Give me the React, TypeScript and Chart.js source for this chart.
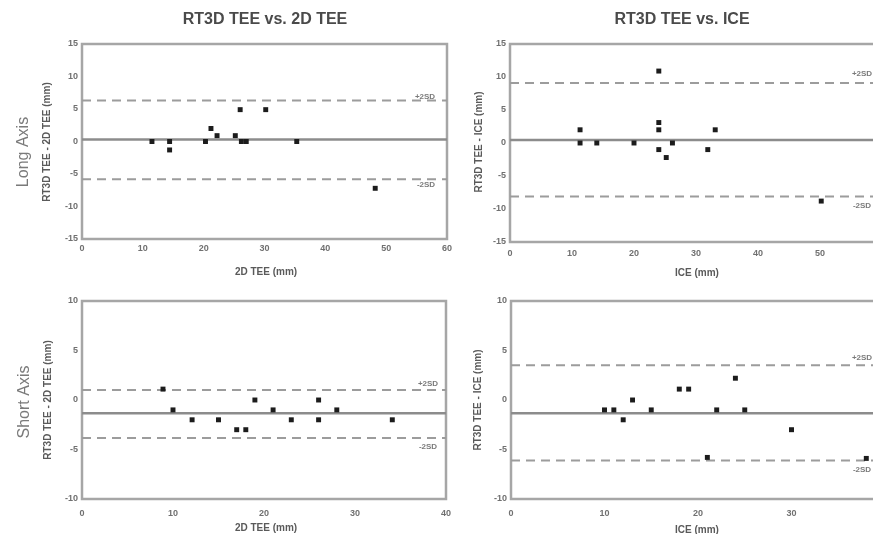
import React, { useEffect, useRef } from "react";
import { Chart, registerables } from "chart.js";

Chart.register(...registerables);

const FONT = '"Liberation Sans", Arial, sans-serif';

// ---------- DATA ----------
// Long axis, RT3D TEE vs 2D TEE
const longVs2dX = [11.5, 14.4, 14.4, 20.3, 21.2, 22.2, 25.2, 26.0, 26.2, 27.0, 30.2, 35.3, 48.2];
const longVs2dDiff = [0, 0, -1.3, 0, 2, 0.9, 0.9, 4.9, 0, 0, 4.9, 0, -7.2];
const longVs2dMean = 0.3;
const longVs2dUpper = 6.3;
const longVs2dLower = -5.8;

// Long axis, RT3D TEE vs ICE
const longVsIceX = [11.3, 11.3, 14.0, 20.0, 24.0, 24.0, 24.0, 24.0, 25.2, 26.2, 31.9, 33.1, 50.2];
const longVsIceDiff = [2, 0, 0, 0, 10.9, 3.1, 2, -1, -2.2, 0, -1, 2, -8.8];
const longVsIceMean = 0.45;
const longVsIceUpper = 9.1;
const longVsIceLower = -8.1;

// Short axis, RT3D TEE vs 2D TEE
const shortVs2dX = [8.9, 10.0, 12.1, 15.0, 17.0, 18.0, 19.0, 21.0, 23.0, 26.0, 26.0, 28.0, 34.1];
const shortVs2dDiff = [1.1, -1, -2, -2, -3, -3, 0, -1, -2, 0, -2, -1, -2];
const shortVs2dMean = -1.35;
const shortVs2dUpper = 1.0;
const shortVs2dLower = -3.85;

// Short axis, RT3D TEE vs ICE
const shortVsIceX = [10, 11, 12, 13, 15, 18, 19, 21, 22, 24, 25, 30, 38];
const shortVsIceDiff = [-1, -1, -2, 0, -1, 1.1, 1.1, -5.8, -1, 2.2, -1, -3, -5.9];
const shortVsIceMean = -1.35;
const shortVsIceUpper = 3.5;
const shortVsIceLower = -6.1;

// Tick labels
const xTicksLong = [0, 10, 20, 30, 40, 50, 60];
const yTicksLong = [-15, -10, -5, 0, 5, 10, 15];
const xTicksShort = [0, 10, 20, 30, 40];
const yTicksShort = [-10, -5, 0, 5, 10];

// Texts
const titleLeft = "RT3D TEE vs. 2D TEE";
const titleRight = "RT3D TEE vs. ICE";
const rowLong = "Long Axis";
const rowShort = "Short Axis";
const yTitle2d = "RT3D TEE - 2D TEE (mm)";
const yTitleIce = "RT3D TEE - ICE (mm)";
const xTitle2d = "2D TEE (mm)";
const xTitleIce = "ICE (mm)";
const plusSD = "+2SD";
const minusSD = "-2SD";

// ---------- CHART ----------
type TextItem = {
  text: string;
  x: number;
  y?: number;
  value?: number;
  dy?: number;
  rot?: boolean;
  font: string;
  color: string;
  align?: CanvasTextAlign;
};

type PanelCfg = {
  left: number;
  top: number;
  w: number;
  h: number;
  yWidth: number;
  xHeight: number;
  xPad: number;
  padTop: number;
  padRight: number;
  xs: number[];
  ys: number[];
  mean: number;
  upper: number;
  lower: number;
  xTicks: number[];
  yTicks: number[];
  texts: TextItem[];
};

function makeDecor(texts: TextItem[]) {
  return {
    id: "decor",
    beforeDatasetsDraw(chart: any) {
      const { ctx, chartArea: a } = chart;
      ctx.save();
      ctx.strokeStyle = "#a6a6a6";
      ctx.lineWidth = 2.5;
      ctx.strokeRect(a.left, a.top, a.right - a.left, a.bottom - a.top);
      ctx.restore();
    },
    afterDraw(chart: any) {
      const { ctx } = chart;
      const ys = chart.scales.y;
      for (const t of texts) {
        const y = t.value !== undefined ? ys.getPixelForValue(t.value) + (t.dy || 0) : (t.y as number);
        ctx.save();
        ctx.translate(t.x, y);
        if (t.rot) ctx.rotate(-Math.PI / 2);
        ctx.font = t.font;
        ctx.fillStyle = t.color;
        ctx.textAlign = t.align || "center";
        ctx.textBaseline = "middle";
        ctx.fillText(t.text, 0, 0);
        ctx.restore();
      }
    },
  };
}

function Panel({ cfg }: { cfg: PanelCfg }) {
  const ref = useRef<HTMLCanvasElement>(null);
  useEffect(() => {
    const xMin = cfg.xTicks[0];
    const xMax = cfg.xTicks[cfg.xTicks.length - 1];
    const yMin = cfg.yTicks[0];
    const yMax = cfg.yTicks[cfg.yTicks.length - 1];
    const hLine = (v: number) => [
      { x: xMin, y: v },
      { x: xMax, y: v },
    ];
    const tickFont = { family: FONT, size: 9, weight: "bold" as const };
    const chart = new Chart(ref.current as HTMLCanvasElement, {
      type: "scatter",
      data: {
        datasets: [
          {
            data: cfg.xs.map((x, i) => ({ x, y: cfg.ys[i] })),
            pointStyle: "rect",
            pointRadius: 3.5,
            backgroundColor: "#1c1c1c",
            borderWidth: 0,
          },
          {
            data: hLine(cfg.mean),
            showLine: true,
            borderColor: "#8c8c8c",
            borderWidth: 2.5,
            pointRadius: 0,
          },
          {
            data: hLine(cfg.upper),
            showLine: true,
            borderColor: "#9c9c9c",
            borderWidth: 2,
            borderDash: [9, 6],
            pointRadius: 0,
          },
          {
            data: hLine(cfg.lower),
            showLine: true,
            borderColor: "#9c9c9c",
            borderWidth: 2,
            borderDash: [9, 6],
            pointRadius: 0,
          },
        ] as any,
      },
      options: {
        animation: false,
        responsive: false,
        devicePixelRatio: 1,
        layout: { padding: { left: 0, top: cfg.padTop, right: cfg.padRight, bottom: 0 } },
        plugins: { legend: { display: false }, tooltip: { enabled: false } },
        scales: {
          x: {
            type: "linear",
            min: xMin,
            max: xMax,
            grid: { display: false, drawTicks: false },
            border: { display: false },
            ticks: { font: tickFont, color: "#707070", padding: cfg.xPad, maxRotation: 0 },
            afterBuildTicks: (s: any) => {
              s.ticks = cfg.xTicks.map((v) => ({ value: v }));
            },
            afterFit: (s: any) => {
              s.height = cfg.xHeight;
            },
          },
          y: {
            type: "linear",
            min: yMin,
            max: yMax,
            grid: { display: false, drawTicks: false },
            border: { display: false },
            ticks: { font: tickFont, color: "#707070", padding: 4 },
            afterBuildTicks: (s: any) => {
              s.ticks = cfg.yTicks.map((v) => ({ value: v }));
            },
            afterFit: (s: any) => {
              s.width = cfg.yWidth;
            },
          },
        },
      } as any,
      plugins: [makeDecor(cfg.texts)],
    });
    return () => chart.destroy();
  }, [cfg]);
  return (
    <canvas
      ref={ref}
      width={cfg.w}
      height={cfg.h}
      style={{ position: "absolute", left: cfg.left, top: cfg.top, width: cfg.w, height: cfg.h }}
    />
  );
}

const TITLE_FONT = `bold 16px ${FONT}`;
const ROW_FONT = `16px ${FONT}`;
const AXIS_FONT = `bold 10px ${FONT}`;
const SD_FONT = `bold 8px ${FONT}`;
const TITLE_COLOR = "#4a4a4a";
const ROW_COLOR = "#7a7a7a";
const AXIS_COLOR = "#5a5a5a";
const SD_COLOR = "#7a7a7a";

const panels: PanelCfg[] = [
  {
    left: 0,
    top: 0,
    w: 460,
    h: 280,
    yWidth: 82,
    xHeight: 41,
    xPad: 4,
    padTop: 44,
    padRight: 13,
    xs: longVs2dX,
    ys: longVs2dDiff,
    mean: longVs2dMean,
    upper: longVs2dUpper,
    lower: longVs2dLower,
    xTicks: xTicksLong,
    yTicks: yTicksLong,
    texts: [
      { text: titleLeft, x: 265, y: 20, font: TITLE_FONT, color: TITLE_COLOR },
      { text: rowLong, x: 24, y: 152, rot: true, font: ROW_FONT, color: ROW_COLOR },
      { text: yTitle2d, x: 47, y: 142, rot: true, font: AXIS_FONT, color: AXIS_COLOR },
      { text: xTitle2d, x: 266, y: 272, font: AXIS_FONT, color: AXIS_COLOR },
      { text: plusSD, x: 425, value: longVs2dUpper, dy: -4, font: SD_FONT, color: SD_COLOR },
      { text: minusSD, x: 426, value: longVs2dLower, dy: 6, font: SD_FONT, color: SD_COLOR },
    ],
  },
  {
    left: 440,
    top: 0,
    w: 460,
    h: 280,
    yWidth: 70,
    xHeight: 38,
    xPad: 6,
    padTop: 44,
    padRight: 18,
    xs: longVsIceX,
    ys: longVsIceDiff,
    mean: longVsIceMean,
    upper: longVsIceUpper,
    lower: longVsIceLower,
    xTicks: xTicksLong,
    yTicks: yTicksLong,
    texts: [
      { text: titleRight, x: 242, y: 20, font: TITLE_FONT, color: TITLE_COLOR },
      { text: yTitleIce, x: 39, y: 142, rot: true, font: AXIS_FONT, color: AXIS_COLOR },
      { text: xTitleIce, x: 257, y: 273, font: AXIS_FONT, color: AXIS_COLOR },
      { text: plusSD, x: 422, value: longVsIceUpper, dy: -9, font: SD_FONT, color: SD_COLOR },
      { text: minusSD, x: 422, value: longVsIceLower, dy: 9, font: SD_FONT, color: SD_COLOR },
    ],
  },
  {
    left: 0,
    top: 285,
    w: 460,
    h: 249,
    yWidth: 82,
    xHeight: 35,
    xPad: 9,
    padTop: 16,
    padRight: 13,
    xs: shortVs2dX,
    ys: shortVs2dDiff,
    mean: shortVs2dMean,
    upper: shortVs2dUpper,
    lower: shortVs2dLower,
    xTicks: xTicksShort,
    yTicks: yTicksShort,
    texts: [
      { text: rowShort, x: 25, y: 117, rot: true, font: ROW_FONT, color: ROW_COLOR },
      { text: yTitle2d, x: 48, y: 115, rot: true, font: AXIS_FONT, color: AXIS_COLOR },
      { text: xTitle2d, x: 266, y: 243, font: AXIS_FONT, color: AXIS_COLOR },
      { text: plusSD, x: 428, value: shortVs2dUpper, dy: -6, font: SD_FONT, color: SD_COLOR },
      { text: minusSD, x: 428, value: shortVs2dLower, dy: 9, font: SD_FONT, color: SD_COLOR },
    ],
  },
  {
    left: 440,
    top: 285,
    w: 460,
    h: 249,
    yWidth: 71,
    xHeight: 35,
    xPad: 9,
    padTop: 16,
    padRight: 15,
    xs: shortVsIceX,
    ys: shortVsIceDiff,
    mean: shortVsIceMean,
    upper: shortVsIceUpper,
    lower: shortVsIceLower,
    xTicks: xTicksShort,
    yTicks: yTicksShort,
    texts: [
      { text: yTitleIce, x: 38, y: 115, rot: true, font: AXIS_FONT, color: AXIS_COLOR },
      { text: xTitleIce, x: 257, y: 245, font: AXIS_FONT, color: AXIS_COLOR },
      { text: plusSD, x: 422, value: shortVsIceUpper, dy: -8, font: SD_FONT, color: SD_COLOR },
      { text: minusSD, x: 422, value: shortVsIceLower, dy: 9, font: SD_FONT, color: SD_COLOR },
    ],
  },
];

export default function App() {
  return (
    <div
      style={{
        position: "absolute",
        left: 0,
        top: 0,
        width: 873,
        height: 534,
        overflow: "hidden",
        background: "#ffffff",
      }}
    >
      {panels.map((p, i) => (
        <Panel key={i} cfg={p} />
      ))}
    </div>
  );
}
